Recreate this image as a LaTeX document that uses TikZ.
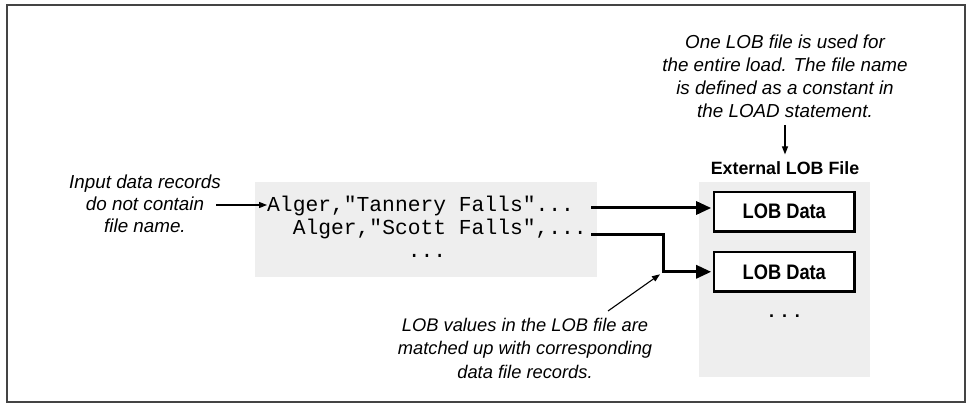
\documentclass[tikz,border=0pt]{standalone}
\usepackage{fontspec}
\usepackage{graphicx}
\setmainfont{Liberation Sans}
\newfontfamily\codefont{Liberation Mono}
\usetikzlibrary{arrows.meta,calc}
\definecolor{boxgray}{HTML}{EEEEEE}
\definecolor{framegray}{HTML}{444444}
\tikzset{
 note/.style={align=center, inner sep=0pt, anchor=base},
 code/.style={font=\codefont\fontsize{21.3}{23}\selectfont, inner sep=0pt, anchor=base west},
 panel/.style={fill=boxgray, draw=none, inner sep=0pt},
 lobbox/.style={draw, line width=2.7pt, fill=white, minimum width=140.5pt, minimum height=39.3pt, inner sep=0pt, font=\bfseries\fontsize{21}{21}\selectfont},
 bigarrow/.style={line width=3pt, -{Triangle[length=15pt,width=13pt]}},
 thinarrow/.style={line width=1.1pt, -{Triangle[length=8pt,width=6pt]}},
}
\begin{document}
\begin{tikzpicture}[x=1pt,y=-1pt]
\useasboundingbox (0,0) rectangle (967,403);
\draw[framegray, line width=2pt] (7,5) rectangle (965,402);

% panels
\node[panel, minimum width=342pt, minimum height=95pt] (lp) at (426,229.5) {};
\node[panel, minimum width=171pt, minimum height=195pt] (rp) at (784.5,279.5) {};

% code lines
\node[code] (l1) at (267,212) {Alger,"Tannery Falls"...};
\node[code] (l2) at (292.6,235) {Alger,"Scott Falls",...};
\node[code] (l3) at (407.6,258) {...};

% external file
\node[font=\bfseries\fontsize{17.8}{18}\selectfont, inner sep=0pt, anchor=base] (ext) at (785,175) {External LOB File};
\node[lobbox] (d1) at (784.3,211.6) {\scalebox{0.87}[1]{LOB Data}};
\node[lobbox] (d2) at (784.3,271.8) {\scalebox{0.87}[1]{LOB Data}};
\node[inner sep=0pt, anchor=base, font=\bfseries\fontsize{18}{18}\selectfont] (more) at (784.5,317.5) {.\hspace{8pt}.\hspace{8pt}.};

% annotations (anchor base = baseline of the last line)
\node[note, font=\itshape\fontsize{18.8}{23.3}\selectfont] (top) at (785,118)
  {One LOB file is used for\\the entire load. The file name\\is defined as a constant in\\the LOAD statement.};
\node[note, font=\itshape\fontsize{18.8}{22}\selectfont] (left) at (145,233)
  {Input data records\\do not contain\\file name.};
\node[note, font=\itshape\fontsize{18.3}{23.5}\selectfont] (bot) at (525,378)
  {LOB values in the LOB file are\\matched up with corresponding\\data file records.};

% connectors
\coordinate (la) at (216,205);
\draw[thinarrow] (la) -- (la -| l1.west);
\coordinate (ta) at (785,125);
\draw[thinarrow] (ta) -- ([yshift=7.5pt]ext.north);

\coordinate (a1) at (591,208);
\draw[bigarrow, shorten >=1.5pt] (a1) -- (a1 -| d1.west);
\coordinate (a2) at (591,234.5);
\coordinate (b2) at (663,234.5);
\coordinate (b3) at (b2 |- d2.west);
\draw[bigarrow, shorten >=1.5pt] (a2) -- (b2) |- (d2.west);

\coordinate (bs) at (608,311);
\draw[thinarrow] (bs) -- ([xshift=-3pt,yshift=-2.5pt]b3);
\end{tikzpicture}
\end{document}
